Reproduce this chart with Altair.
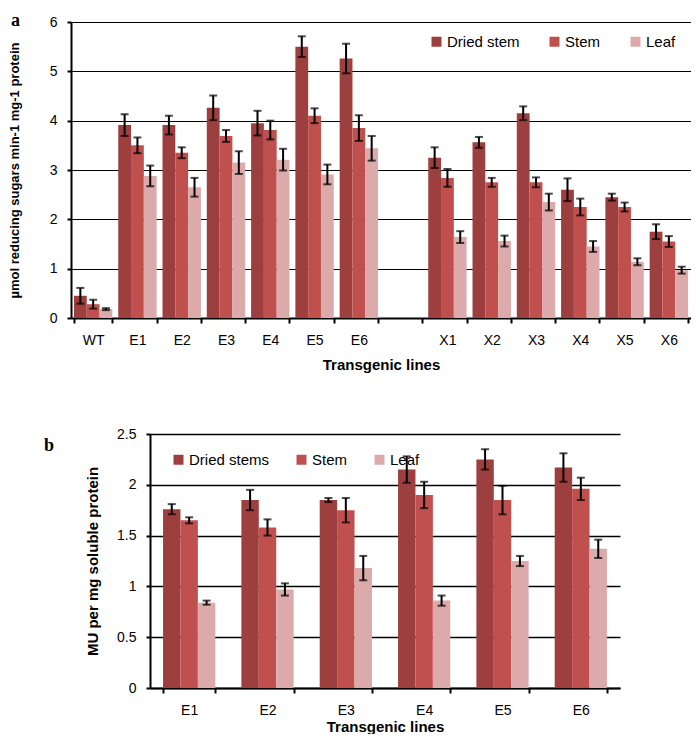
import altair as alt
import pandas as pd

# ---------------- Data: panel a ----------------
lines_a = ["WT", "E1", "E2", "E3", "E4", "E5", "E6", "X1", "X2", "X3", "X4", "X5", "X6"]
tissues_a = ["Dried stem", "Stem", "Leaf"]
dried_a = [0.45, 3.91, 3.91, 4.26, 3.95, 5.50, 5.26, 3.25, 3.56, 4.15, 2.60, 2.45, 1.75]
dried_a_err = [0.16, 0.22, 0.19, 0.25, 0.25, 0.21, 0.30, 0.21, 0.11, 0.14, 0.23, 0.07, 0.15]
stem_a = [0.28, 3.50, 3.35, 3.69, 3.81, 4.10, 3.85, 2.84, 2.75, 2.75, 2.25, 2.25, 1.55]
stem_a_err = [0.09, 0.16, 0.11, 0.12, 0.19, 0.15, 0.26, 0.18, 0.09, 0.10, 0.17, 0.09, 0.11]
leaf_a = [0.18, 2.88, 2.65, 3.15, 3.21, 2.91, 3.44, 1.64, 1.56, 2.35, 1.45, 1.14, 0.97]
leaf_a_err = [0.02, 0.21, 0.19, 0.23, 0.22, 0.20, 0.25, 0.12, 0.11, 0.17, 0.11, 0.07, 0.07]

# ---------------- Data: panel b ----------------
lines_b = ["E1", "E2", "E3", "E4", "E5", "E6"]
tissues_b = ["Dried stems", "Stem", "Leaf"]
dried_b = [1.76, 1.85, 1.85, 2.15, 2.25, 2.17]
dried_b_err = [0.05, 0.10, 0.02, 0.13, 0.10, 0.14]
stem_b = [1.65, 1.58, 1.75, 1.90, 1.85, 1.96]
stem_b_err = [0.03, 0.08, 0.12, 0.13, 0.14, 0.11]
leaf_b = [0.84, 0.97, 1.18, 0.86, 1.25, 1.37]
leaf_b_err = [0.02, 0.06, 0.12, 0.05, 0.05, 0.09]

colors = ["#9e3f3f", "#c0504d", "#dcaaaa"]


def long_df(lines, tissues, series, errs):
    rows = []
    for t, vals, es in zip(tissues, series, errs):
        for ln, v, e in zip(lines, vals, es):
            rows.append({"line": ln, "tissue": t, "value": v, "lo": v - e, "hi": v + e})
    return pd.DataFrame(rows)


df_a = long_df(lines_a, tissues_a, [dried_a, stem_a, leaf_a], [dried_a_err, stem_a_err, leaf_a_err])
df_b = long_df(lines_b, tissues_b, [dried_b, stem_b, leaf_b], [dried_b_err, stem_b_err, leaf_b_err])

FONT = "Liberation Sans"


def panel(df, domain, tissues, ymax, yticks, ytitle, ytitle_size, ytitle_pad, w, h, pad_inner,
          legend_x, legend_y, legend_pad, letter, letter_x, letter_y, grid_w, label_expr,
          xlab_pad, xtitle_pad, ylab_pad):
    x = alt.X("line:N",
              scale=alt.Scale(domain=domain, paddingInner=pad_inner, paddingOuter=pad_inner / 2),
              axis=alt.Axis(title="Transgenic lines", labelExpr=label_expr, labelAngle=0,
                            tickBand="extent", tickSize=5, tickWidth=2, tickColor="black",
                            domainColor="black", domainWidth=2, labelFont=FONT,
                            labelFontSize=14, labelColor="black", labelPadding=xlab_pad,
                            titleFont=FONT, titleFontSize=15, titleFontWeight="bold",
                            titleColor="black", titlePadding=xtitle_pad))
    xo = alt.XOffset("tissue:N", scale=alt.Scale(domain=tissues, paddingInner=0, paddingOuter=0))
    y = alt.Y("value:Q", scale=alt.Scale(domain=[0, ymax], nice=False),
              axis=alt.Axis(title=ytitle, values=yticks, format="~g", grid=True,
                            gridColor="black", gridWidth=grid_w, domainColor="black",
                            domainWidth=2, tickColor="black", tickSize=4, tickWidth=2,
                            labelFont=FONT, labelFontSize=14, labelColor="black",
                            labelPadding=ylab_pad, titleFont=FONT, titleFontSize=ytitle_size,
                            titleFontWeight="bold", titleColor="black",
                            titlePadding=ytitle_pad))
    color = alt.Color("tissue:N", scale=alt.Scale(domain=tissues, range=colors),
                      legend=alt.Legend(title=None, orient="none", legendX=legend_x,
                                        legendY=legend_y, direction="horizontal",
                                        symbolType="square", symbolSize=100,
                                        symbolStrokeWidth=0, labelFont=FONT,
                                        labelFontSize=15, labelColor="black",
                                        columnPadding=legend_pad, labelOffset=3))
    base = alt.Chart(df)
    bars = base.mark_bar().encode(x=x, xOffset=xo, y=y, color=color)
    rules = base.mark_rule(color="black", strokeWidth=2).encode(
        x=alt.X("line:N"), xOffset=alt.XOffset("tissue:N"), y="lo:Q", y2="hi:Q")
    cap_lo = base.mark_tick(color="black", thickness=2, size=8).encode(
        x=alt.X("line:N"), xOffset=alt.XOffset("tissue:N"), y="lo:Q")
    cap_hi = base.mark_tick(color="black", thickness=2, size=8).encode(
        x=alt.X("line:N"), xOffset=alt.XOffset("tissue:N"), y="hi:Q")
    lab = alt.Chart(pd.DataFrame({"t": [letter]})).mark_text(
        font="Liberation Serif", fontSize=18, fontWeight="bold", color="black",
        align="left", baseline="middle").encode(
        x=alt.value(letter_x), y=alt.value(letter_y), text="t:N")
    return alt.layer(bars, rules, cap_lo, cap_hi, lab).properties(width=w, height=h)


domain_a = lines_a[:7] + ["gap"] + lines_a[7:]
chart_a = panel(df_a, domain_a, tissues_a, 6, [0, 1, 2, 3, 4, 5, 6],
                "µmol reducing sugars min-1 mg-1 protein", 13, 28, 620, 296, 0.133,
                358, 12, 27, "a", -60, -1, 1,
                "datum.value == 'gap' ? '' : datum.value", 10, 10, 10)
chart_b = panel(df_b, lines_b, tissues_b, 2.5, [0, 0.5, 1, 1.5, 2, 2.5],
                "MU per mg soluble protein", 15, 16, 470, 254, 0.333,
                100, 18, 24, "b", -106, 12, 1.5, "datum.value", 10, 2, 10)

spacer = alt.Chart(pd.DataFrame({"s": [0]})).mark_point(opacity=0).properties(width=79, height=254)
row_b = alt.hconcat(spacer, chart_b, spacing=0, bounds="flush")

chart = alt.vconcat(chart_a, row_b, spacing=116, bounds="flush").resolve_scale(
    color="independent", x="independent", y="independent", xOffset="independent"
).resolve_legend(color="independent").properties(
    padding={"top": 4, "left": 0, "right": 0, "bottom": 0}
).configure_view(stroke=None)

chart.save("out.html", embed_options={"renderer": "svg", "actions": False})
